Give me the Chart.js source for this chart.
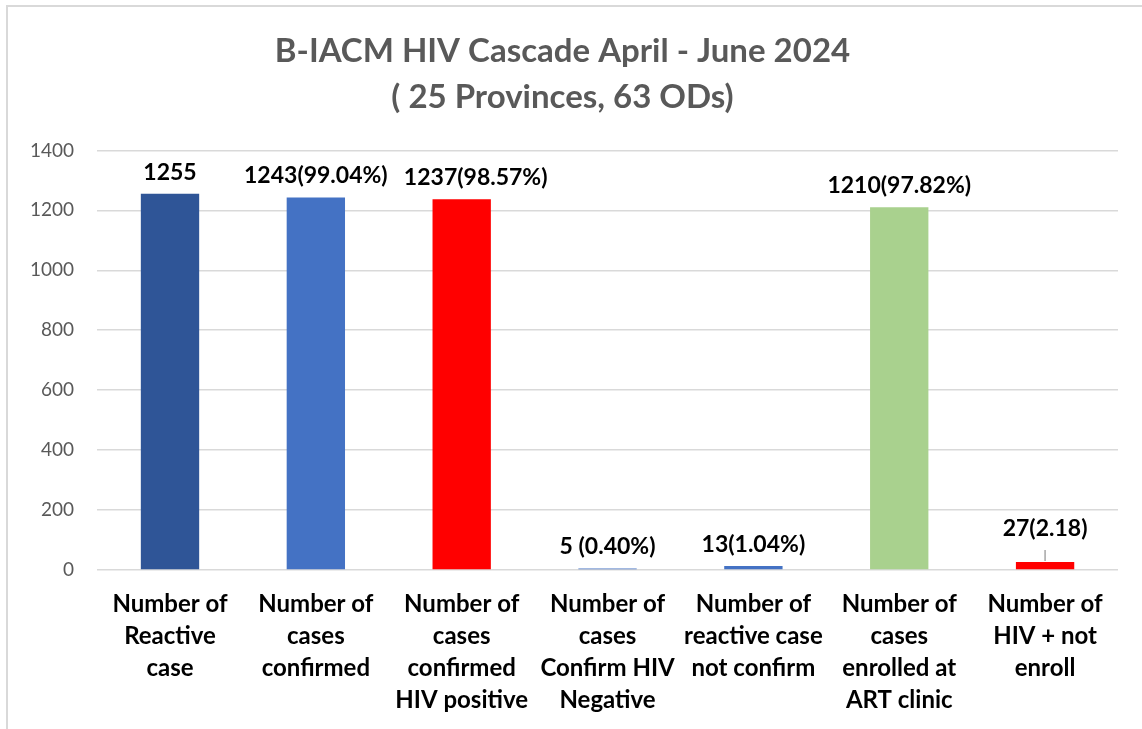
<!DOCTYPE html>
<html>
<head>
<meta charset="utf-8">
<script src="https://cdn.jsdelivr.net/npm/chart.js@4.4.1/dist/chart.umd.min.js"></script>
<style>
  html, body { margin: 0; padding: 0; background: #fff; overflow: hidden; }
  #wrap { position: absolute; left: 0; top: 0; width: 1142px; height: 729px; }
  #frame { position: absolute; left: 6px; top: 5px; width: 1200px; height: 800px;
           border: 2px solid #d9d9d9; pointer-events: none; }
</style>
</head>
<body>
<div id="wrap">
  <canvas id="myChart" width="1142" height="729"></canvas>
  <div id="frame"></div>
</div>
<script>
// categories (multi-line axis labels)
const categories = [
  ["Number of", "Reactive", "case"],
  ["Number of", "cases", "confirmed"],
  ["Number of", "cases", "confirmed", "HIV positive"],
  ["Number of", "cases", "Confirm HIV", "Negative"],
  ["Number of", "reactive case", "not confirm"],
  ["Number of", "cases", "enrolled at", "ART clinic"],
  ["Number of", "HIV + not", "enroll"]
];
const values = [1255, 1243, 1237, 5, 13, 1210, 27];
const valueLabels = ["1255", "1243(99.04%)", "1237(98.57%)", "5 (0.40%)", "13(1.04%)", "1210(97.82%)", "27(2.18)"];
const barColors = ["#2F5597", "#4472C4", "#FF0000", "#4472C4", "#4472C4", "#A9D18E", "#FF0000"];
const yTicks = [0, 200, 400, 600, 800, 1000, 1200, 1400];

const FONT = "Lato, 'Open Sans', sans-serif";

// 🔹 draws value labels above bars (with a leader line when lifted)
const valueLabelPlugin = {
  id: "valueLabels",
  afterDatasetsDraw(chart) {
    const ctx = chart.ctx;
    const meta = chart.getDatasetMeta(0);
    ctx.save();
    ctx.font = "bold 23px " + FONT;
    ctx.fillStyle = "#000";
    ctx.textAlign = "center";
    ctx.textBaseline = "bottom";
    meta.data.forEach((bar, i) => {
      let x = bar.x;
      let y = bar.y - 10;
      if (i === 2) x += 14;       // label nudged right in the original
      if (i === 6) {
        // lifted label with leader line
        y = bar.y - 22;
        ctx.strokeStyle = "#a6a6a6";
        ctx.lineWidth = 1.5;
        ctx.beginPath();
        ctx.moveTo(bar.x, bar.y - 1);
        ctx.lineTo(bar.x, bar.y - 12);
        ctx.stroke();
      }
      ctx.fillText(valueLabels[i], x, y);
    });
    ctx.restore();
  }
};

const ctx = document.getElementById("myChart").getContext("2d");

new Chart(ctx, {
  type: "bar",
  data: {
    labels: categories,
    datasets: [{
      data: values,
      backgroundColor: barColors,
      borderWidth: 0,
      categoryPercentage: 1,
      barPercentage: 0.4
    }]
  },
  options: {
    responsive: false,
    animation: false,
    layout: {
      padding: { top: 28, bottom: 0, left: 7, right: 24 }
    },
    scales: {
      y: {
        min: 0,
        max: 1400,
        afterBuildTicks: (axis) => { axis.ticks = yTicks.map(v => ({ value: v })); },
        grid: { color: "#d9d9d9", lineWidth: 1.5, drawTicks: false },
        border: { display: false },
        ticks: {
          color: "#595959",
          font: { family: FONT, size: 19 },
          padding: 23,
          callback: (v) => String(v)
        }
      },
      x: {
        afterFit: (axis) => { axis.height = 159; },
        grid: { display: false, drawTicks: false },
        border: { display: false },
        ticks: {
          color: "#000",
          font: { family: FONT, size: 24, weight: "bold", lineHeight: 1.333 },
          autoSkip: false,
          maxRotation: 0,
          minRotation: 0,
          padding: 18
        }
      }
    },
    plugins: {
      legend: { display: false },
      tooltip: { enabled: false },
      title: {
        display: true,
        text: ["B-IACM HIV Cascade April - June 2024", "( 25 Provinces, 63 ODs)"],
        color: "#595959",
        font: { family: FONT, size: 33, weight: "bold", lineHeight: 1.4 },
        padding: { top: 0, bottom: 30 }
      }
    }
  },
  plugins: [valueLabelPlugin]
});
</script>
</body>
</html>
